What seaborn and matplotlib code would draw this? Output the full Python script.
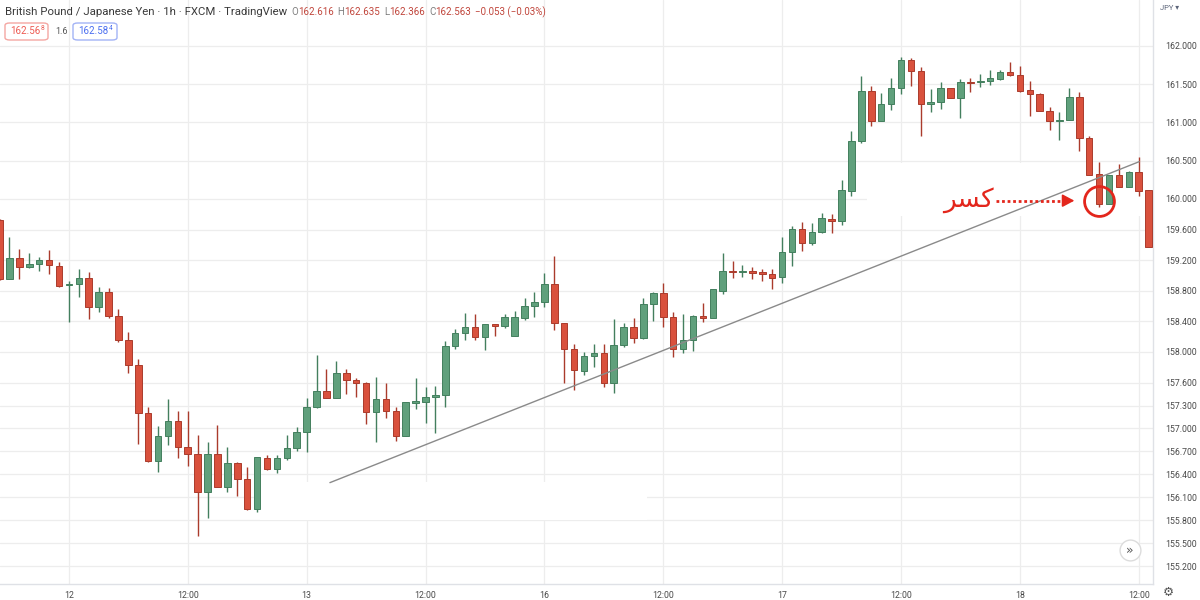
import matplotlib
matplotlib.use("Agg")
import matplotlib.pyplot as plt
import seaborn as sns
import numpy as np
import pandas as pd
from matplotlib.patches import Rectangle, FancyBboxPatch
from matplotlib.lines import Line2D

# ---------------- data ----------------
hour_index = list(range(-7, 110))   # hourly candles, 0 = day 12 00:00

opens = [159.720, 158.954, 159.225, 159.115, 159.146, 159.199, 159.128, 158.870, 158.885, 158.971,
         158.588, 158.784, 158.475, 158.157, 157.830, 157.207, 156.575, 156.902, 157.098, 156.758,
         156.667, 156.166, 156.667, 156.240, 156.549, 156.336, 155.948, 156.618, 156.471, 156.618,
         156.741, 156.958, 157.277, 157.494, 157.403, 157.730, 157.634, 157.600, 157.212, 157.382,
         157.233, 156.902, 157.337, 157.350, 157.416, 157.437, 158.079, 158.244, 158.323, 158.192,
         158.366, 158.340, 158.210, 158.448, 158.601, 158.658, 158.889, 158.375, 158.035, 157.756,
         157.948, 157.991, 157.591, 158.092, 158.323, 158.180, 158.628, 158.767, 158.462, 158.035,
         158.157, 158.471, 158.440, 158.801, 159.063, 159.050, 159.063, 159.042, 159.020, 158.977,
         159.311, 159.604, 159.429, 159.565, 159.739, 159.717, 160.109, 160.762, 161.412, 161.024,
         161.238, 161.447, 161.817, 161.673, 161.242, 161.264, 161.447, 161.316, 161.533, 161.525,
         161.547, 161.569, 161.656, 161.621, 161.425, 161.373, 161.154, 161.020, 161.033, 161.330,
         160.793, 160.323, 159.930, 160.314, 160.161, 160.357, 160.118]

highs = [159.740, 159.507, 159.342, 159.290, 159.238, 159.333, 159.180, 158.932, 159.089, 159.050,
         158.846, 158.837, 158.562, 158.261, 157.912, 157.277, 157.037, 157.386, 157.225, 157.233,
         156.915, 156.824, 157.046, 156.754, 156.560, 156.501, 156.623, 156.654, 156.654, 156.911,
         157.016, 157.395, 157.961, 157.774, 157.883, 157.774, 157.656, 157.605, 157.677, 157.591,
         157.285, 157.342, 157.664, 157.539, 157.556, 158.148, 158.297, 158.506, 158.497, 158.370,
         158.370, 158.493, 158.536, 158.702, 158.780, 159.029, 159.259, 158.380, 158.105, 158.004,
         158.105, 158.105, 158.428, 158.383, 158.440, 158.702, 158.790, 158.898, 158.527, 158.497,
         158.483, 158.637, 158.820, 159.298, 159.193, 159.137, 159.107, 159.085, 159.080, 159.507,
         159.647, 159.703, 159.690, 159.813, 159.804, 160.248, 160.893, 161.608, 161.477, 161.390,
         161.578, 161.852, 161.840, 161.730, 161.434, 161.533, 161.450, 161.565, 161.578, 161.634,
         161.686, 161.686, 161.787, 161.739, 161.547, 161.390, 161.207, 161.141, 161.447, 161.395,
         160.824, 160.488, 160.320, 160.458, 160.360, 160.553, 160.120]

lows = [158.940, 158.950, 158.950, 159.100, 159.059, 159.020, 158.846, 158.392, 158.715, 158.432,
        158.519, 158.441, 158.127, 157.726, 156.797, 156.560, 156.435, 156.785, 156.610, 156.514,
        155.600, 155.826, 156.230, 156.166, 156.122, 155.940, 155.913, 156.460, 156.414, 156.588,
        156.706, 156.697, 157.264, 157.400, 157.395, 157.451, 157.416, 157.059, 156.820, 157.133,
        156.841, 156.900, 157.251, 157.068, 156.945, 157.285, 158.035, 158.157, 158.157, 158.026,
        158.210, 158.310, 158.205, 158.418, 158.462, 158.584, 158.288, 157.599, 157.503, 157.699,
        157.808, 157.546, 157.460, 158.061, 158.114, 158.170, 158.410, 158.323, 157.939, 157.983,
        158.017, 158.396, 158.440, 158.758, 158.963, 158.985, 158.950, 158.932, 158.820, 158.906,
        159.124, 159.320, 159.400, 159.552, 159.560, 159.660, 160.039, 160.736, 160.954, 161.020,
        161.163, 161.373, 161.477, 160.824, 161.141, 161.172, 161.320, 161.063, 161.403, 161.468,
        161.490, 161.560, 161.608, 161.403, 161.085, 161.150, 160.902, 160.771, 161.030, 160.632,
        160.310, 159.891, 159.930, 160.160, 160.160, 160.039, 159.368]

closes = [158.954, 159.225, 159.115, 159.146, 159.199, 159.133, 158.863, 158.880, 158.967, 158.588,
          158.784, 158.467, 158.157, 157.826, 157.199, 156.575, 156.902, 157.098, 156.754, 156.667,
          156.166, 156.667, 156.240, 156.549, 156.336, 155.948, 156.623, 156.471, 156.618, 156.741,
          156.958, 157.285, 157.494, 157.403, 157.730, 157.634, 157.591, 157.212, 157.382, 157.229,
          156.902, 157.342, 157.360, 157.408, 157.437, 158.079, 158.244, 158.323, 158.192, 158.366,
          158.340, 158.462, 158.462, 158.601, 158.658, 158.889, 158.383, 158.035, 157.765, 157.948,
          157.991, 157.591, 158.092, 158.323, 158.180, 158.628, 158.767, 158.462, 158.035, 158.157,
          158.471, 158.440, 158.820, 159.059, 159.050, 159.060, 159.037, 159.016, 158.972, 159.311,
          159.604, 159.429, 159.573, 159.748, 159.717, 160.118, 160.762, 161.412, 161.024, 161.238,
          161.447, 161.817, 161.677, 161.238, 161.272, 161.447, 161.324, 161.533, 161.520, 161.547,
          161.578, 161.656, 161.621, 161.416, 161.369, 161.154, 161.020, 161.033, 161.330, 160.793,
          160.314, 159.930, 160.314, 160.161, 160.357, 160.109, 159.376]

time_ticks = [0, 12, 24, 36, 48, 60, 72, 84, 96, 108]
time_labels = ["12", "12:00", "13", "12:00", "16", "12:00", "17", "12:00", "18", "12:00"]
price_ticks = [162.0, 161.5, 161.0, 160.5, 160.0, 159.6, 159.2, 158.8, 158.4, 158.0,
               157.6, 157.3, 157.0, 156.7, 156.4, 156.1, 155.8, 155.5, 155.2]

trend_hours = [26.35, 108.05]
trend_prices = [156.292, 160.488]

break_hour = 104.0
break_price = 159.978
label_text = "كسر"          # "break"
# visual (shaped, left-to-right) form of the same word for matplotlib
label_display = "\uFEAE\uFEB4\uFEDB"

title_text = "British Pound / Japanese Yen · 1h · FXCM · TradingView"
ohlc_values = ["162.616", "162.635", "162.366", "162.563"]
change_text = "−0.053 (−0.03%)"

# ---------------- style ----------------
sns.set_theme(style="white")
plt.rcParams['font.family'] = ['Roboto', 'DejaVu Sans']

GREEN_FACE, GREEN_EDGE = '#60a07c', '#437f5e'
RED_FACE, RED_EDGE = '#d9513d', '#aa3b2c'
GRID = '#ededed'
TXT = '#4a4a4a'
ANN_RED = '#e3261c'

fig = plt.figure(figsize=(12, 6), dpi=100)
fig.patch.set_facecolor('white')
ax = fig.add_axes([0, 16 / 600, 1153 / 1200, 584 / 600])
ax.set_facecolor('white')

df = pd.DataFrame(dict(hour=hour_index, open=opens, high=highs, low=lows, close=closes))
up = (df.close >= df.open).values
faces = np.where(up, GREEN_FACE, RED_FACE)
edges = np.where(up, GREEN_EDGE, RED_EDGE)

# wicks and bodies
ax.vlines(df.hour, df.low, df.high, colors=edges, lw=1.0, zorder=2)
body_h = np.maximum((df.close - df.open).abs().values, 0.014)
body_b = np.minimum(df.open.values, df.close.values)
ax.bar(df.hour, body_h, bottom=body_b, width=0.66, color=faces,
       edgecolor=edges, linewidth=0.7, zorder=3)

# white erased patches (as in screenshot)
ax.add_patch(Rectangle((19.3, 155.81), 39.1, 0.495, facecolor='white',
                       edgecolor='none', zorder=1))
ax.add_patch(Rectangle((80.6, 159.78), 29.0, 0.69, facecolor='white',
                       edgecolor='none', zorder=1))

# trend line
sns.lineplot(x=trend_hours, y=trend_prices, ax=ax, color='#8a8a8a', lw=1.0, zorder=4)

# annotation: label, dotted arrow, circle
ax.text(90.76, 159.99, label_display, color=ANN_RED, fontsize=19,
        ha='center', va='center', family=['DejaVu Sans'], zorder=6)
ax.plot([93.6, 100.7], [break_price, break_price], color=ANN_RED, lw=2.0,
        ls=(0, (1, 1)), solid_capstyle='butt', dash_capstyle='butt', zorder=6)
ax.annotate("", xy=(101.5, break_price), xytext=(100.5, break_price),
            arrowprops=dict(arrowstyle='-|>,head_length=0.6,head_width=0.32',
                            color=ANN_RED, lw=1.2, shrinkA=0, shrinkB=0), zorder=6)
ax.plot([break_hour], [break_price], marker='o', ms=21.5, mfc='none',
        mec=ANN_RED, mew=2.0, zorder=7)

# axes
ax.set_xlim(-6.955, 109.44)
ax.set_ylim(154.967, 162.6013)
ax.yaxis.tick_right()
ax.set_yticks(price_ticks)
ax.set_yticklabels([f"{p:.3f}" for p in price_ticks])
ax.set_xticks(time_ticks)
ax.set_xticklabels(time_labels)
ax.tick_params(axis='y', length=0, pad=9, labelsize=6.3, labelcolor=TXT)
ax.tick_params(axis='x', length=0, pad=5, labelsize=6.3, labelcolor=TXT)
ax.grid(True, color=GRID, lw=0.9)
ax.set_axisbelow(True)
for s in ['top', 'left']:
    ax.spines[s].set_visible(False)
for s in ['right', 'bottom']:
    ax.spines[s].set_color('#dfe1e6')
    ax.spines[s].set_linewidth(1.0)

# ---------------- header / chrome ----------------
def fx(px):
    return px / 1200

def fy(py):
    return 1 - py / 600

renderer = fig.canvas.get_renderer()

def seq(x_px, y_px, pieces, size):
    x = x_px
    for s, col, gap in pieces:
        t = fig.text(fx(x), fy(y_px), s, color=col, fontsize=size, ha='left', va='center')
        x += t.get_window_extent(renderer=renderer).width + gap
    return x

end = seq(5, 12, [(title_text, '#3a3a3a', 4)], 8.2)
vals_col = '#c0453b'
seq(end, 12, [("O", '#808080', 0), (ohlc_values[0], vals_col, 4),
              ("H", '#808080', 0), (ohlc_values[1], vals_col, 4),
              ("L", '#808080', 0), (ohlc_values[2], vals_col, 4),
              ("C", '#808080', 0), (ohlc_values[3], vals_col, 4),
              (change_text, vals_col, 0)], 7.0)

# price boxes
for (x0, x1, ec, tc, main, sup) in [(5, 48, '#f4a7a3', '#ee5a52', "162.56", "8"),
                                     (73, 117, '#a3b3f5', '#4a6ef0', "162.58", "4")]:
    box = FancyBboxPatch((fx(x0), fy(40)), fx(x1 - x0), (40 - 23) / 600,
                         boxstyle="round,pad=0,rounding_size=0.004",
                         transform=fig.transFigure, facecolor='white',
                         edgecolor=ec, lw=1.0)
    fig.add_artist(box)
    t = fig.text(fx(x0 + 5), fy(31.5), main, color=tc, fontsize=7.0, ha='left', va='center')
    w = t.get_window_extent(renderer=renderer).width
    fig.text(fx(x0 + 5 + w + 0.5), fy(28.5), sup, color=tc, fontsize=4.8, ha='left', va='center')
fig.text(fx(55), fy(31.5), "1.6", color='#555555', fontsize=6.5, ha='left', va='center')

fig.text(fx(1160), fy(8), "JPY ▾", color='#5a6378', fontsize=5.5, ha='left', va='center',
         family=['Roboto', 'DejaVu Sans'])
fig.text(fx(1163), fy(592), "⚙", color='#555555', fontsize=9, ha='left', va='center',
         family=['DejaVu Sans'])

# scroll button
fig.add_artist(Line2D([fx(1130)], [fy(550)], marker='o', ms=15, mfc='white',
                      mec='#dcdcdc', mew=1.0, transform=fig.transFigure))
fig.text(fx(1130), fy(550), "»", color='#555555', fontsize=9, ha='center', va='center',
         family=['DejaVu Sans'])

fig.savefig("out.png", dpi=100, facecolor='white')
